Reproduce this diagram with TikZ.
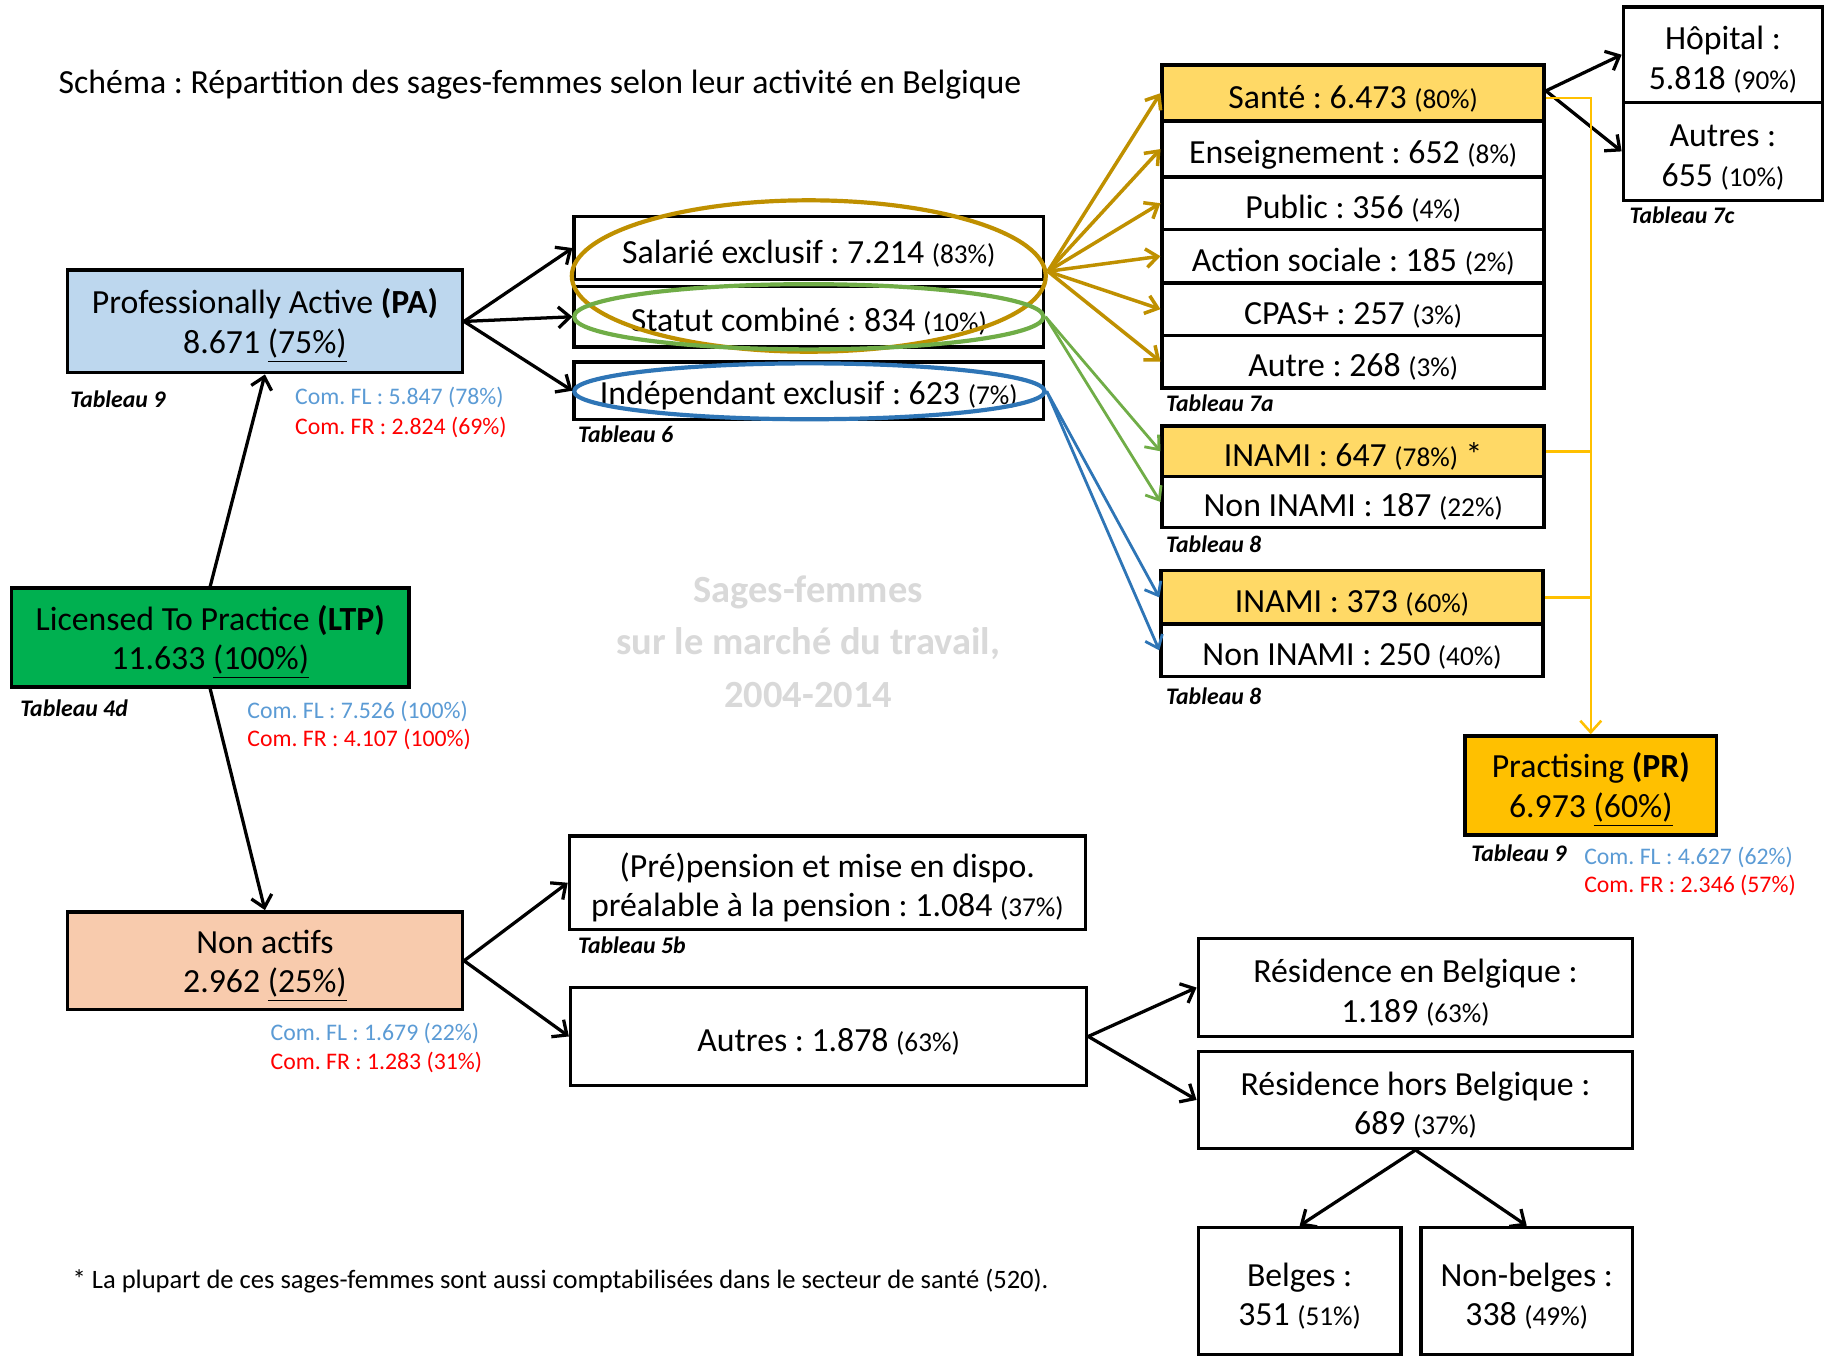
\documentclass[tikz,border=0pt]{standalone}
\usepackage{fontspec}
\setmainfont{Carlito}
\usetikzlibrary{arrows.meta,shapes.geometric}
\definecolor{pablue}{HTML}{BDD7EE}
\definecolor{ltpgreen}{HTML}{00B050}
\definecolor{napeach}{HTML}{F8CBAD}
\definecolor{lgold}{HTML}{FFD966}
\definecolor{prgold}{HTML}{FFC000}
\definecolor{dgold}{HTML}{BF9000}
\definecolor{egreen}{HTML}{70AD47}
\definecolor{eblue}{HTML}{2E75B6}
\definecolor{flblue}{HTML}{5B9BD5}
\definecolor{frred}{HTML}{FF0000}
\definecolor{wmgray}{HTML}{D9D9D9}
\newcommand\pct[1]{{\fontsize{11.7}{13}\selectfont #1}}
\newcommand\toplift{\rule{0pt}{14.5pt}}
\frenchspacing
\begin{document}
\begin{tikzpicture}[x=0.5pt,y=-0.5pt,
  box/.style={draw=black, line width=1.5pt, inner sep=0pt, align=center, font=\fontsize{14.5}{17}\selectfont\frenchspacing},
  rect/.style n args={4}{minimum width={(#3-#1)*0.5pt}, minimum height={(#4-#2)*0.5pt}, at={({(#1+#3)/2},{(#2+#4)/2})}},
  arr/.style={-{Straight Barb[length=5pt,width=9pt]}, line width=1.4pt},
  garr/.style={-{Straight Barb[length=5pt,width=8pt]}, line width=1.5pt, draw=dgold},
  grarr/.style={-{Straight Barb[length=5pt,width=8pt]}, line width=1.2pt, draw=egreen},
  barr/.style={-{Straight Barb[length=5pt,width=8pt]}, line width=1.2pt, draw=eblue},
  yline/.style={line width=1.1pt, draw=prgold},
  ell/.style={ellipse, draw, line width=1.8pt, inner sep=0pt},
  tab/.style={font=\fontsize{10.2}{11}\selectfont\bfseries\itshape, anchor=west, inner sep=0pt},
  com/.style={font=\fontsize{10.2}{11}\selectfont\frenchspacing, anchor=west, inner sep=0pt},
  wm/.style={font=\fontsize{16.5}{18}\selectfont\bfseries, text=wmgray, inner sep=0pt}
]
\useasboundingbox (0,0) rectangle (1568,1164);
\fill[white] (0,0) rectangle (1568,1164);

% title
\node[anchor=west, inner sep=0pt, font=\fontsize{14.5}{16}\selectfont\frenchspacing] (title) at (50,73) {Schéma : Répartition des sages-femmes selon leur activité en Belgique};

% left column
\node[box, fill=pablue, rect={58}{232}{397}{320}] (pa) {\toplift Professionally Active \textbf{(PA)}\\8.671 \underline{(75\%)}};
\node[box, fill=ltpgreen, rect={10}{505}{351}{590}] (ltp) {\toplift Licensed To Practice \textbf{(LTP)}\\11.633 \underline{(100\%)}};
\node[box, fill=napeach, rect={58}{783}{397}{867}] (na) {\toplift Non actifs\\2.962 \underline{(25\%)}};

% middle column
\node[box, rect={493}{186}{896}{240}] (sal) {\toplift Salarié exclusif : 7.214 \pct{(83\%)}};
\node[box, rect={493}{246}{896}{298}] (stat) {\toplift Statut combiné : 834 \pct{(10\%)}};
\node[box, rect={493}{311}{896}{360}] (ind) {\toplift Indépendant exclusif : 623 \pct{(7\%)}};

% sector column
\node[box, fill=lgold, rect={998}{56}{1326}{104}] (sante) {\toplift Santé : 6.473 \pct{(80\%)}};
\node[box, rect={998}{104}{1326}{152}] (ens) {\toplift Enseignement : 652 \pct{(8\%)}};
\node[box, rect={998}{152}{1326}{197}] (pub) {\toplift Public : 356 \pct{(4\%)}};
\node[box, rect={998}{197}{1326}{243}] (act) {\toplift Action sociale : 185 \pct{(2\%)}};
\node[box, rect={998}{243}{1326}{288}] (cpas) {\toplift CPAS+ : 257 \pct{(3\%)}};
\node[box, rect={998}{288}{1326}{333}] (autre) {\toplift Autre : 268 \pct{(3\%)}};

\node[box, fill=lgold, rect={998}{366}{1326}{409}] (inamia) {\toplift INAMI : 647 \pct{(78\%)} *};
\node[box, rect={998}{409}{1326}{453}] (noninamia) {\toplift Non INAMI : 187 \pct{(22\%)}};
\node[box, fill=lgold, rect={997}{490}{1325}{536}] (inamib) {\toplift INAMI : 373 \pct{(60\%)}};
\node[box, rect={997}{536}{1325}{581}] (noninamib) {\toplift Non INAMI : 250 \pct{(40\%)}};

\node[box, rect={1394}{6}{1565}{88}] (hop) {\toplift Hôpital :\\5.818 \pct{(90\%)}};
\node[box, rect={1394}{88}{1565}{172}] (autres) {\toplift Autres :\\655 \pct{(10\%)}};

\node[box, fill=prgold, rect={1258}{632}{1474}{717}] (pr) {\toplift Practising \textbf{(PR)}\\6.973 \underline{(60\%)}};

% bottom
\node[box, rect={489}{718}{932}{798}] (pre) {\toplift (Pré)pension et mise en dispo.\\préalable à la pension : 1.084 \pct{(37\%)}};
\node[box, rect={490}{848}{933}{932}] (aut) {\toplift Autres : 1.878 \pct{(63\%)}};
\node[box, rect={1029}{806}{1402}{890}] (resb) {\toplift Résidence en Belgique :\\1.189 \pct{(63\%)}};
\node[box, rect={1029}{903}{1402}{986}] (resh) {\toplift Résidence hors Belgique :\\689 \pct{(37\%)}};
\node[box, rect={1029}{1054}{1203}{1163}] (belg) {\toplift Belges :\\351 \pct{(51\%)}};
\node[box, rect={1220}{1054}{1402}{1163}] (nonb) {\toplift Non-belges :\\338 \pct{(49\%)}};

% ellipses
\node[ell, draw=dgold, minimum width=203.5pt, minimum height=65pt] (ge) at (694.5,237) {};
\node[ell, draw=egreen, minimum width=201.5pt, minimum height=28pt] (gr) at (694.5,272) {};
\node[ell, draw=eblue, minimum width=202pt, minimum height=24pt] (bl) at (695,336) {};

% watermark
\node[wm] (wm1) at (694,509) {Sages-femmes};
\node[wm] (wm2) at (694,553) {sur le marché du travail,};
\node[wm] (wm3) at (694,597) {2004-2014};

% labels
\node[tab] (t9) at (60,343) {Tableau 9};
\node[tab] (t4d) at (17,608) {Tableau 4d};
\node[tab] (t6) at (496,373) {Tableau 6};
\node[tab] (t7a) at (1001,346) {Tableau 7a};
\node[tab] (t8a) at (1001,467) {Tableau 8};
\node[tab] (t8b) at (1001,598) {Tableau 8};
\node[tab] (t7c) at (1399,185) {Tableau 7c};
\node[tab] (t9b) at (1263,733) {Tableau 9};
\node[tab] (t5b) at (496,812) {Tableau 5b};

\node[com, text=flblue] (pafl) at (253,341) {Com. FL : 5.847 (78\%)};
\node[com, text=frred] (pafr) at (253,367) {Com. FR : 2.824 (69\%)};
\node[com, text=flblue] (ltpfl) at (212,611) {Com. FL : 7.526 (100\%)};
\node[com, text=frred] (ltpfr) at (212,635) {Com. FR : 4.107 (100\%)};
\node[com, text=flblue] (nafl) at (232,887) {Com. FL : 1.679 (22\%)};
\node[com, text=frred] (nafr) at (232,912) {Com. FR : 1.283 (31\%)};
\node[com, text=flblue] (prfl) at (1360,736) {Com. FL : 4.627 (62\%)};
\node[com, text=frred] (prfr) at (1360,760) {Com. FR : 2.346 (57\%)};

\node[anchor=west, inner sep=0pt, font=\fontsize{11.4}{13}\selectfont\frenchspacing] (foot) at (62,1100) {* La plupart de ces sages-femmes sont aussi comptabilisées dans le secteur de santé (520).};

% black arrows
\draw[arr] (ltp.north) -- (pa.south);
\draw[arr] (ltp.south) -- (na.north);
\draw[arr] (pa.east) -- (sal.west);
\draw[arr] (pa.east) -- (stat.west);
\draw[arr] (pa.east) -- (ind.west);
\draw[arr] ([yshift=1pt]sante.east) -- (hop.west);
\draw[arr] ([yshift=1pt]sante.east) -- (autres.west);
\draw[arr] (na.east) -- (pre.west);
\draw[arr] (na.east) -- (aut.west);
\draw[arr] (aut.east) -- (resb.west);
\draw[arr] (aut.east) -- (resh.west);
\draw[arr] (resh.south) -- (belg.north);
\draw[arr] (resh.south) -- (nonb.north);

% gold arrows
\foreach \t in {sante,ens,pub,act,cpas,autre}
  \draw[garr] ([yshift=2pt]ge.east) -- (\t.west);
% green
\draw[grarr] (gr.east) -- (inamia.west);
\draw[grarr] (gr.east) -- (noninamia.west);
% blue
\draw[barr] (bl.east) -- (inamib.west);
\draw[barr] (bl.east) -- (noninamib.west);

% yellow
\draw[yline, -{Straight Barb[length=5pt,width=9pt]}] ([yshift=-2pt]sante.east) -- ([yshift=-2pt]sante.east -| pr.north) -- (pr.north);
\draw[yline] (inamia.east) -- (inamia.east -| pr.north);
\draw[yline] (inamib.east) -- (inamib.east -| pr.north);
\end{tikzpicture}
\end{document}
